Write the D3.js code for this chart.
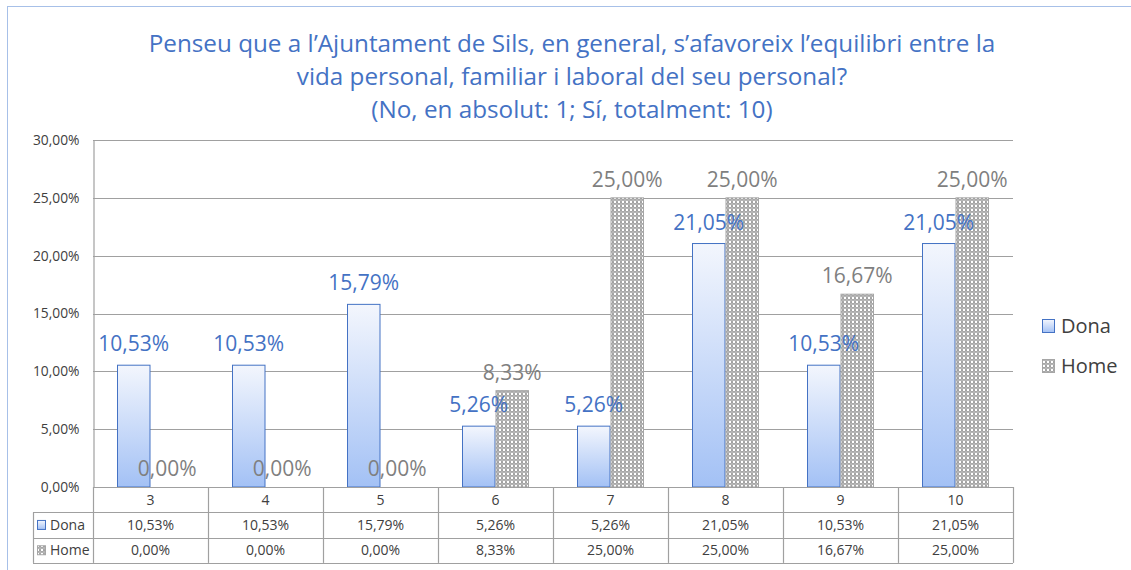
<!DOCTYPE html>
<html>
<head>
<meta charset="utf-8">
<script src="https://cdn.jsdelivr.net/npm/d3@7"></script>
<style>
  body { margin: 0; background: #fff; }
  svg { display: block; font-family: "Open Sans", "Noto Sans", sans-serif; }
</style>
</head>
<body>
<svg id="chart" width="1131" height="570"></svg>
<script>
// chart data
var categories = ['3', '4', '5', '6', '7', '8', '9', '10'];
var seriesNames = ['Dona', 'Home'];
var donaValues = [0.1053, 0.1053, 0.1579, 0.0526, 0.0526, 0.2105, 0.1053, 0.2105];
var homeValues = [0, 0, 0, 0.0833, 0.25, 0.25, 0.1667, 0.25];
var yTicks = [0, 0.05, 0.10, 0.15, 0.20, 0.25, 0.30];
var titleLines = [
    'Penseu que a l\u2019Ajuntament de Sils, en general, s\u2019afavoreix l\u2019equilibri entre la',
    'vida personal, familiar i laboral del seu personal?',
    '(No, en absolut: 1; S\u00ed, totalment: 10)'
];

(function () {
    var BLUE = '#4472c4', GREY_TEXT = '#7f7f7f', LINE = '#a0a0a0';

    var locale = d3.formatLocale({ decimal: ',', thousands: '.', grouping: [3], currency: ['', '€'] });
    var pct = locale.format('.2%');

    var svg = d3.select('#chart');
    var defs = svg.append('defs');

    var grad = defs.append('linearGradient').attr('id', 'donaGrad')
        .attr('x1', 0).attr('y1', 0).attr('x2', 0).attr('y2', 1);
    grad.append('stop').attr('offset', '0%').attr('stop-color', '#f3f6fd');
    grad.append('stop').attr('offset', '100%').attr('stop-color', '#a3c1f5');

    var pat = defs.append('pattern').attr('id', 'homePat')
        .attr('width', 4).attr('height', 4).attr('patternUnits', 'userSpaceOnUse');
    pat.append('rect').attr('width', 4).attr('height', 4).attr('fill', '#878787');
    pat.append('circle').attr('cx', 2).attr('cy', 2).attr('r', 1.4).attr('fill', '#fff');
    [[0, 0], [4, 0], [0, 4], [4, 4]].forEach(function (p) {
        pat.append('circle').attr('cx', p[0]).attr('cy', p[1]).attr('r', 0.8).attr('fill', '#eeeeee');
    });

    // outer dotted frame
    svg.append('rect')
        .attr('x', 7.5).attr('y', 6.5).attr('width', 1140).attr('height', 600)
        .attr('fill', 'none').attr('stroke', '#4f81d0').attr('stroke-width', 1)
        .attr('stroke-dasharray', '1,1');

    // title
    var title = svg.append('g').attr('class', 'title');
    titleLines.forEach(function (t, i) {
        title.append('text')
            .attr('x', 572).attr('y', 52 + i * 33)
            .attr('text-anchor', 'middle')
            .attr('fill', BLUE)
            .attr('font-size', 22)
            .text(t);
    });
    // fit first line to its width in the reference
    var first = title.select('text').node();
    var scale = 847 / first.getComputedTextLength();
    title.selectAll('text').attr('font-size', 22 * scale);

    var plotLeft = 93, plotRight = 1013, plotTop = 140, plotBottom = 487;

    var x = d3.scaleBand().domain(categories).range([plotLeft, plotRight]);
    var inner = d3.scaleBand().domain(seriesNames)
        .range([x.bandwidth() / 2 - 33.5, x.bandwidth() / 2 + 33.5]);
    var y = d3.scaleLinear().domain([0, 0.30]).range([plotBottom, plotTop]);

    // gridlines
    svg.append('g').selectAll('line').data(yTicks).join('line')
        .attr('x1', plotLeft).attr('x2', plotRight)
        .attr('y1', function (d) { return Math.round(y(d)) + 0.5; })
        .attr('y2', function (d) { return Math.round(y(d)) + 0.5; })
        .attr('stroke', LINE).attr('stroke-width', 1.2);

    // y axis
    var yAxis = svg.append('g')
        .attr('transform', 'translate(' + (plotLeft + 0.5) + ',0)')
        .call(d3.axisLeft(y).tickValues(yTicks).tickFormat(pct).tickSize(0).tickPadding(14));
    yAxis.select('.domain').attr('stroke', LINE).attr('stroke-width', 1.2);
    yAxis.selectAll('text').attr('font-size', 13.8).attr('fill', '#404040')
        .attr('font-family', '"Open Sans", sans-serif');

    // bars
    var rows = categories.map(function (c, i) {
        return { cat: c, Dona: donaValues[i], Home: homeValues[i] };
    });

    var groups = svg.append('g').selectAll('g').data(rows).join('g')
        .attr('transform', function (d) { return 'translate(' + x(d.cat) + ',0)'; });

    groups.append('rect')
        .attr('x', inner('Dona') + 0.5)
        .attr('y', function (d) { return y(d.Dona); })
        .attr('width', inner.bandwidth() - 1)
        .attr('height', function (d) { return y(0) - y(d.Dona); })
        .attr('fill', 'url(#donaGrad)').attr('stroke', BLUE).attr('stroke-width', 1);

    groups.filter(function (d) { return d.Home > 0; }).append('rect')
        .attr('x', inner('Home') + 0.5)
        .attr('y', function (d) { return y(d.Home); })
        .attr('width', inner.bandwidth() - 1)
        .attr('height', function (d) { return y(0) - y(d.Home); })
        .attr('fill', 'url(#homePat)').attr('stroke', '#a6a6a6').attr('stroke-width', 1);

    // data labels
    groups.append('text')
        .attr('x', inner('Dona') + inner.bandwidth() / 2)
        .attr('y', function (d) { return y(d.Dona) - 14; })
        .attr('text-anchor', 'middle').attr('font-size', 21).attr('fill', BLUE)
        .text(function (d) { return pct(d.Dona); });

    groups.append('text')
        .attr('x', inner('Home') + inner.bandwidth() / 2)
        .attr('y', function (d) { return y(d.Home) - 11; })
        .attr('text-anchor', 'middle').attr('font-size', 21).attr('fill', GREY_TEXT)
        .text(function (d) { return pct(d.Home); });

    // data table
    var rowH = 25.3, tableLeft = 33;
    var tbl = svg.append('g').attr('class', 'table');
    var tableRows = [
        { key: null, values: categories },
        { key: 'Dona', values: donaValues.map(pct) },
        { key: 'Home', values: homeValues.map(pct) }
    ];

    tableRows.forEach(function (r, ri) {
        var y0 = plotBottom + ri * rowH;
        r.values.forEach(function (v, ci) {
            tbl.append('text')
                .attr('x', x(categories[ci]) + x.bandwidth() / 2)
                .attr('y', y0 + rowH / 2 + 5)
                .attr('text-anchor', 'middle').attr('font-size', 14).attr('fill', '#404040')
                .text(v);
        });
        if (r.key) {
            tbl.append('rect')
                .attr('x', tableLeft + 4.5).attr('y', y0 + rowH / 2 - 4.5)
                .attr('width', 8).attr('height', 9)
                .attr('fill', r.key === 'Dona' ? 'url(#donaGrad)' : 'url(#homePat)')
                .attr('stroke', r.key === 'Dona' ? BLUE : '#a6a6a6');
            tbl.append('text')
                .attr('x', tableLeft + 17).attr('y', y0 + rowH / 2 + 5)
                .attr('font-size', 14).attr('fill', '#404040')
                .text(r.key);
        }
    });

    // table lines
    [0, 1, 2, 3].forEach(function (i) {
        var yy = Math.round(plotBottom + i * rowH) + 0.5;
        tbl.append('line')
            .attr('x1', i === 0 ? plotLeft : tableLeft).attr('x2', plotRight)
            .attr('y1', yy).attr('y2', yy)
            .attr('stroke', LINE).attr('stroke-width', 1.2);
    });
    categories.forEach(function (c) {
        var xx = Math.round(x(c) + x.bandwidth()) + 0.5;
        tbl.append('line')
            .attr('x1', xx).attr('x2', xx)
            .attr('y1', plotBottom).attr('y2', plotBottom + 3 * rowH)
            .attr('stroke', LINE).attr('stroke-width', 1.2);
    });
    tbl.append('line')
        .attr('x1', plotLeft + 0.5).attr('x2', plotLeft + 0.5)
        .attr('y1', plotBottom).attr('y2', plotBottom + 3 * rowH)
        .attr('stroke', LINE).attr('stroke-width', 1.2);
    tbl.append('line')
        .attr('x1', tableLeft + 0.5).attr('x2', tableLeft + 0.5)
        .attr('y1', plotBottom + rowH).attr('y2', plotBottom + 3 * rowH)
        .attr('stroke', LINE).attr('stroke-width', 1.2);

    // legend
    var legend = svg.append('g').attr('transform', 'translate(1042,0)');
    seriesNames.forEach(function (s, i) {
        var ly = 326 + i * 40;
        legend.append('rect')
            .attr('x', 0.5).attr('y', ly - 6.5).attr('width', 12).attr('height', 13)
            .attr('fill', s === 'Dona' ? 'url(#donaGrad)' : 'url(#homePat)')
            .attr('stroke', s === 'Dona' ? BLUE : '#a6a6a6');
        legend.append('text')
            .attr('x', 19).attr('y', ly + 7)
            .attr('font-size', 20).attr('fill', '#404040')
            .text(s);
    });
})();
</script>
</body>
</html>
